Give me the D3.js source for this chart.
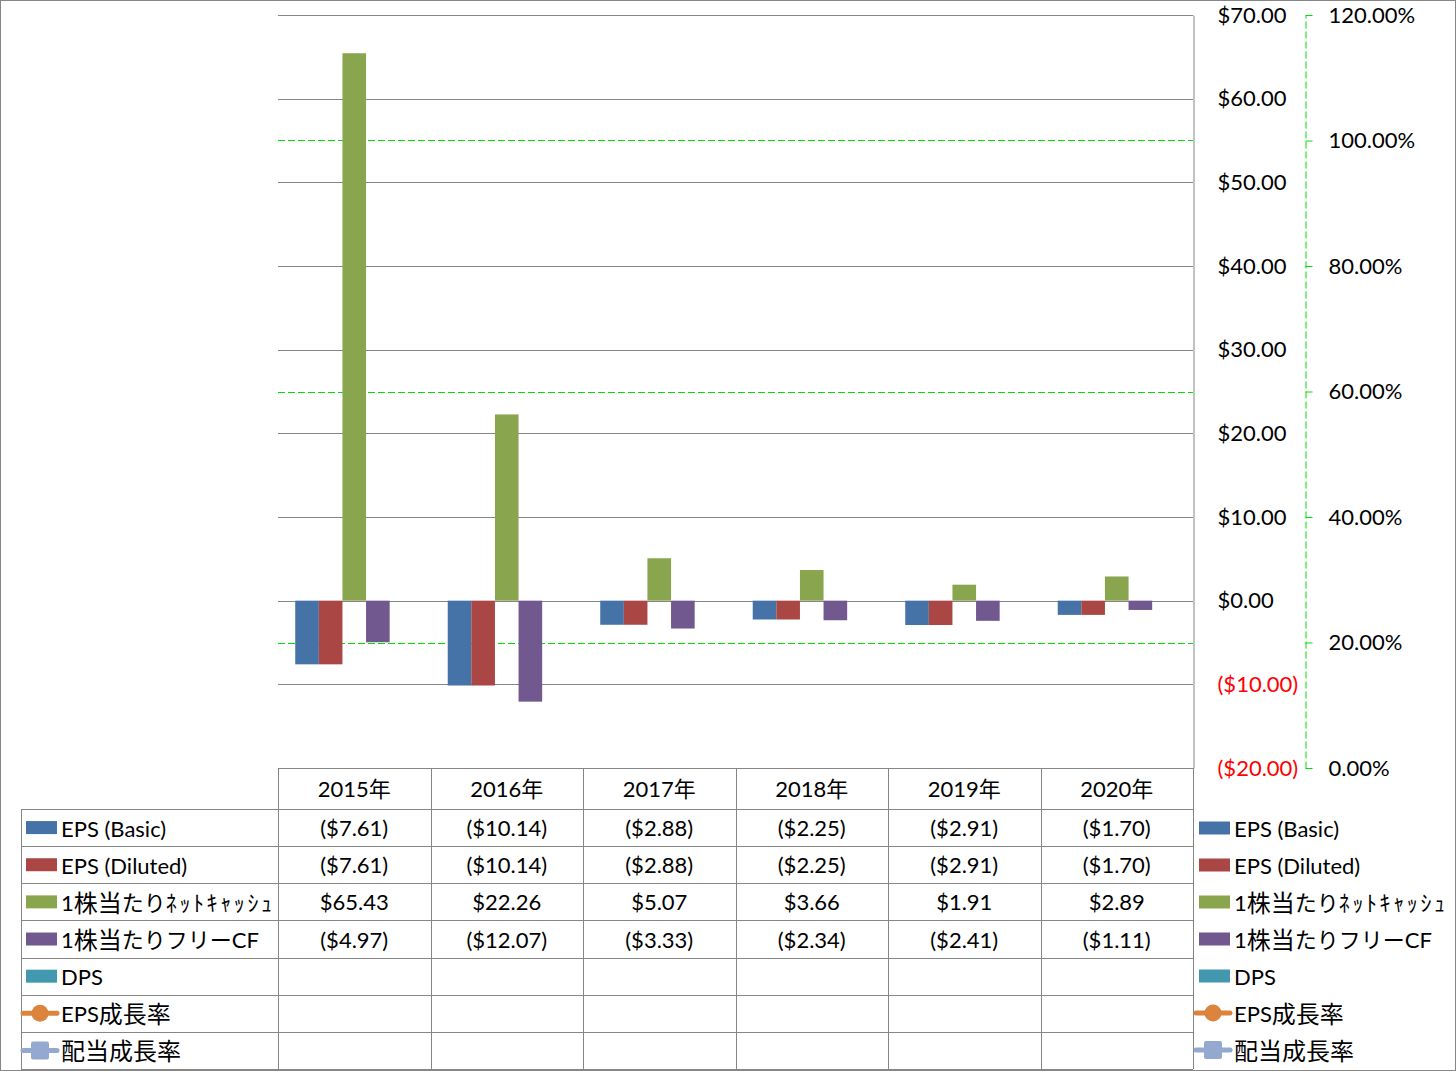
<!DOCTYPE html>
<html><head><meta charset="utf-8">
<script src="https://cdn.jsdelivr.net/npm/d3@7"></script>
<style>
body{margin:0;background:#fff;}
text{font-family:Lato,"Noto Sans CJK JP",sans-serif;font-size:22px;fill:#000;}
</style></head>
<body>
<svg id="c" width="1456" height="1071"></svg>
<script>
const years = ["2015年","2016年","2017年","2018年","2019年","2020年"];
const seriesNames = ["EPS (Basic)","EPS (Diluted)","1株当たりﾈｯﾄｷｬｯｼｭ","1株当たりフリーCF","DPS","EPS成長率","配当成長率"];
const barSeries = ["EPS (Basic)","EPS (Diluted)","1株当たりﾈｯﾄｷｬｯｼｭ","1株当たりフリーCF","DPS"];
const epsBasic = [-7.61,-10.14,-2.88,-2.25,-2.91,-1.70];
const epsDiluted = [-7.61,-10.14,-2.88,-2.25,-2.91,-1.70];
const netCash = [65.43,22.26,5.07,3.66,1.91,2.89];
const freeCF = [-4.97,-12.07,-3.33,-2.34,-2.41,-1.11];
const dps = [null,null,null,null,null,null];
const epsGrowth = [null,null,null,null,null,null];
const divGrowth = [null,null,null,null,null,null];
const leftTicks = [-20,-10,0,10,20,30,40,50,60,70];
const rightTicks = [0,0.2,0.4,0.6,0.8,1.0,1.2];
const rightGrid = [0.2,0.6,1.0];

const colors = ["#4572A7","#AA4643","#89A54E","#71588F","#4198AF","#DB843D","#93A9CF"];
const barValues = [epsBasic,epsDiluted,netCash,freeCF,dps];
const allValues = [epsBasic,epsDiluted,netCash,freeCF,dps,epsGrowth,divGrowth];

const svg = d3.select("#c");
const L=278,R=1193,T=15,B=768;
const gray="#868686";
const y = d3.scaleLinear().domain([-20,70]).range([B,T]);
const y2 = d3.scaleLinear().domain([0,1.2]).range([B,T]);
const x0 = d3.scaleBand().domain(years).range([L,R]).padding(0);
const x1 = d3.scaleBand().domain(barSeries).range([0,x0.bandwidth()]).paddingInner(0).paddingOuter(0.73);

// outer border
svg.append("rect").attr("x",0.5).attr("y",0.5).attr("width",1455).attr("height",1070)
  .attr("fill","none").attr("stroke",gray);

// gridlines
svg.append("g").selectAll("line").data(leftTicks.filter(d=>d>-20)).join("line")
  .attr("x1",L).attr("x2",R).attr("y1",d=>Math.round(y(d))+0.5).attr("y2",d=>Math.round(y(d))+0.5)
  .attr("stroke",gray).attr("stroke-width",1);
svg.append("g").selectAll("line").data(rightGrid).join("line")
  .attr("x1",L).attr("x2",R).attr("y1",d=>Math.round(y2(d))+0.5).attr("y2",d=>Math.round(y2(d))+0.5)
  .attr("stroke","#00E000").attr("stroke-dasharray","7,3").attr("stroke-width",1);

// bars
barSeries.forEach((s,i)=>{
  svg.append("g").selectAll("rect").data(barValues[i].map((v,j)=>({v,yr:years[j]})).filter(d=>d.v!=null)).join("rect")
    .attr("x",d=>x0(d.yr)+x1(s)).attr("width",x1.bandwidth())
    .attr("y",d=>y(Math.max(0,d.v))).attr("height",d=>Math.abs(y(d.v)-y(0)))
    .attr("fill",colors[i]);
});

// primary axis (right side of plot)
const ax = svg.append("g").attr("transform",`translate(${R+0.5},0)`)
  .call(d3.axisRight(y).tickValues(leftTicks).tickSize(0).tickPadding(24)
    .tickFormat(d=> d<0 ? `($${Math.abs(d).toFixed(2)})` : `$${d.toFixed(2)}`));
ax.select(".domain").attr("stroke",gray);
ax.selectAll("text").style("fill",d=>d<0?"#FF0000":"#000");

// secondary axis
const ax2 = svg.append("g").attr("transform",`translate(1305.5,0)`)
  .call(d3.axisRight(y2).tickValues(rightTicks).tickSizeInner(8).tickSizeOuter(0).tickPadding(15)
    .tickFormat(d=>(d*100).toFixed(2)+"%"));
ax2.select(".domain").attr("stroke","#00E000").attr("stroke-dasharray","7,3");
ax2.selectAll(".tick line").attr("stroke","#00E000").attr("stroke-dasharray","7,3");
ax.attr("font-family",null).attr("font-size",null);
ax2.attr("font-family",null).attr("font-size",null);

// data table
const TL=21, headB=809, rowH=37.15;
const rowY = d3.range(8).map(i=>headB+i*rowH);
const tbl = svg.append("g").attr("stroke",gray).attr("stroke-width",1);
tbl.append("line").attr("x1",L).attr("x2",R).attr("y1",B+0.5).attr("y2",B+0.5);
rowY.forEach(yy=>tbl.append("line").attr("x1",TL).attr("x2",R).attr("y1",Math.round(yy)+0.5).attr("y2",Math.round(yy)+0.5));
tbl.append("line").attr("x1",TL+0.5).attr("x2",TL+0.5).attr("y1",headB).attr("y2",rowY[7]);
years.forEach(yr=>tbl.append("line").attr("x1",Math.round(x0(yr))+0.5).attr("x2",Math.round(x0(yr))+0.5).attr("y1",B).attr("y2",rowY[7]));
tbl.append("line").attr("x1",R+0.5).attr("x2",R+0.5).attr("y1",B).attr("y2",rowY[7]);

const fmt = v => v==null ? "" : (v<0 ? `($${Math.abs(v).toFixed(2)})` : `$${v.toFixed(2)}`);
svg.append("g").selectAll("text").data(years).join("text")
  .attr("x",d=>x0(d)+x0.bandwidth()/2).attr("y",(B+headB)/2).attr("text-anchor","middle")
  .attr("dominant-baseline","central").text(d=>d);
allValues.forEach((arr,i)=>{
  svg.append("g").selectAll("text").data(arr.map((v,j)=>({v,yr:years[j]}))).join("text")
    .attr("x",d=>x0(d.yr)+x0.bandwidth()/2).attr("y",rowY[i]+rowH/2).attr("text-anchor","middle")
    .attr("dominant-baseline","central").text(d=>fmt(d.v));
});

// mixed-script label: kanji slightly larger, half-width kana spaced
function label(g, x, yy, s){
  const t = g.append("text").attr("x",x).attr("y",yy).attr("dominant-baseline","central");
  const runs = s.match(/[\uFF61-\uFF9F]+|[\u4E00-\u9FFF]+|[^\u4E00-\u9FFF\uFF61-\uFF9F]+/g);
  runs.forEach(r=>{
    const ts = t.append("tspan").text(r);
    if(/[\uFF61-\uFF9F]/.test(r)) ts.style("letter-spacing","2.6px");
    else if(/[\u4E00-\u9FFF]/.test(r)) ts.style("font-size","24px");
  });
}

// legend keys
function key(g, xs, cy, i){
  if(i<5){
    g.append("rect").attr("x",xs+3).attr("y",cy-6.5).attr("width",31).attr("height",13).attr("fill",colors[i]);
  } else {
    g.append("line").attr("x1",xs).attr("x2",xs+34).attr("y1",cy).attr("y2",cy)
      .attr("stroke",colors[i]).attr("stroke-width",5).attr("stroke-linecap","round");
    if(i===5) g.append("circle").attr("cx",xs+17).attr("cy",cy).attr("r",8.5).attr("fill",colors[i]);
    else g.append("rect").attr("x",xs+8).attr("y",cy-9).attr("width",18).attr("height",18).attr("rx",2).attr("fill",colors[i]);
  }
}
seriesNames.forEach((s,i)=>{
  const cy = rowY[i]+rowH/2;
  const g = svg.append("g");
  key(g,23,cy,i);
  label(g,61,cy,s);
  const g2 = svg.append("g");
  const cy2 = 828 + i*37;
  key(g2,1196,cy2,i);
  label(g2,1234,cy2,s);
});
</script>
</body></html>
